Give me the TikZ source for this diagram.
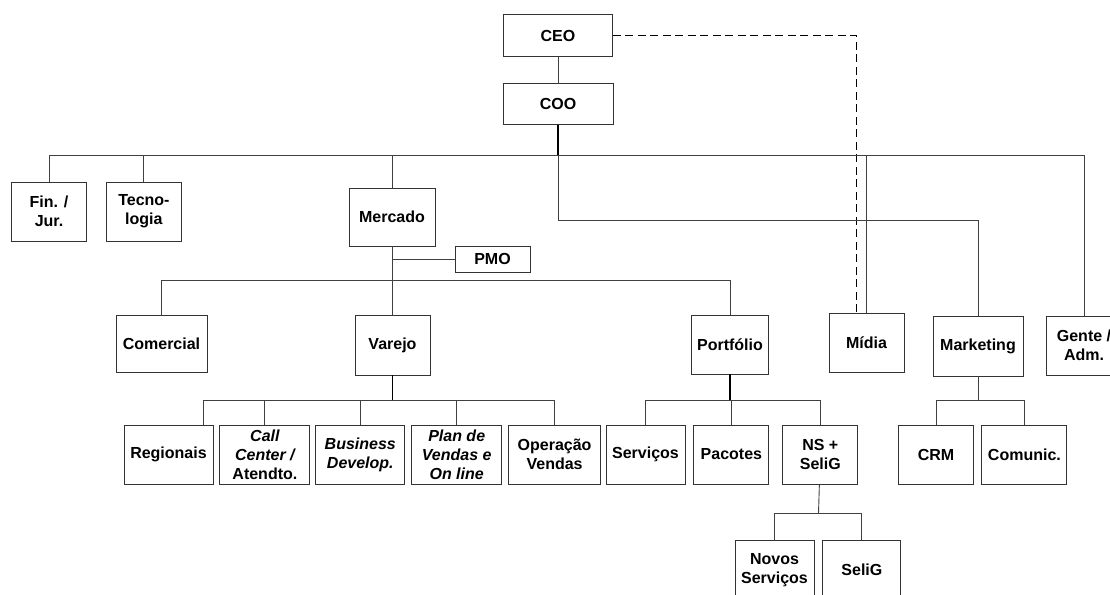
\documentclass[tikz,border=0pt]{standalone}
\usepackage{fontspec}
\setmainfont{Liberation Sans}
\usetikzlibrary{positioning}

\begin{document}
\begin{tikzpicture}[x=1pt, y=-1pt,
    unit/.style={draw=black!80, line width=0.9pt, align=center, inner sep=1pt,
      minimum width=75pt, minimum height=59pt,
      font=\fontsize{16}{19}\selectfont\bfseries},
    link/.style={draw=black!75, line width=0.9pt},
    trunk/.style={draw=black, line width=1.6pt},
    dotted link/.style={draw=black, line width=1.6pt, dash pattern=on 8pt off 4.5pt}]
        \useasboundingbox (0,0) rectangle (1110,594);
        %
        \node [unit, minimum width=109pt, minimum height=42pt] (ceo) at (558,35.5) {CEO};
        \node [unit, minimum width=110pt, minimum height=41pt, below=26pt of ceo] (coo) {COO};
        %
        \node [unit] (fin) at (49,211.5) {Fin. /\\Jur.};
        \node [unit, right=19pt of fin] (tec) {Tecno-\\logia};
        \node [unit, minimum width=86pt, minimum height=58pt] (merc) at (392,217) {Mercado};
        \node [unit, minimum height=26pt] (pmo) at (492.5,259) {PMO};
        %
        \node [unit, minimum width=91pt, minimum height=57pt] (com) at (161.5,343.5) {Comercial};
        \node [unit, minimum height=60pt] (varejo) at (392.5,345) {Varejo};
        \node [unit, minimum width=77pt] (port) at (730,344.5) {Portfólio};
        \node [unit] (midia) at (866.5,342.5) {Mídia};
        \node [unit, minimum width=90pt, minimum height=60pt] (mkt) at (978,346) {Marketing};
        \node [unit, minimum width=76pt] (gente) at (1084,345.5) {Gente /\\Adm.};
        %
        \node [unit, minimum width=89pt] (reg) at (168.5,454.5) {Regionais};
        \node [unit, minimum width=90pt, right=6pt of reg] (call) {{\itshape Call}\\{\itshape Center /}\\Atendto.};
        \node [unit, minimum width=89pt, right=5pt of call] (bdev) {{\itshape Business}\\{\itshape Develop.}};
        \node [unit, minimum width=90pt, right=6pt of bdev] (plan) {{\itshape Plan de}\\{\itshape Vendas e}\\{\itshape On line}};
        \node [unit, minimum width=92pt, right=6pt of plan] (oper) {Operação\\Vendas};
        \node [unit, minimum width=79pt] (serv) at (645.5,454.5) {Serviços};
        \node [unit, right=8pt of serv] (pac) {Pacotes};
        \node [unit, right=13pt of pac] (ns) {NS +\\SeliG};
        \node [unit] (crm) at (936,454.5) {CRM};
        \node [unit, minimum width=85pt, right=7.5pt of crm] (comunic) {Comunic.};
        \node [unit, minimum width=79pt, minimum height=60pt] (novos) at (774.5,570) {Novos\\Serviços};
        \node [unit, minimum width=78pt, minimum height=60pt, right=8pt of novos] (selig) {SeliG};
        %
        \coordinate (bus) at (558,155.5);
        \coordinate (mkbend) at (558,220);
        \coordinate (mbus) at (392,280);
        \coordinate (vbus) at (392.5,400);
        \coordinate (pbus) at (730,400);
        \coordinate (kbus) at (978,400);
        \coordinate (nbus) at (818.5,513);
        %
        \draw [link] (ceo) -- (coo);
        \draw [dotted link] (ceo) -| ([xshift=-10pt]midia.north);
        \draw [trunk] (coo) -- (bus) -- (tec.north |- bus);
        \draw [link] (bus) -| (fin);
        \draw [link] (bus) -| (tec);
        \draw [link] (bus) -| (merc);
        \draw [link] (bus) -| (midia);
        \draw [link] (bus) -| (gente);
        \draw [link] (bus) -- (mkbend) -| (mkt);
        %
        \draw [link] (merc) -- (mbus);
        \draw [link] (merc.south |- pmo.west) -- (pmo);
        \draw [link] (mbus) -| (com);
        \draw [link] (mbus) -| (varejo);
        \draw [link] (mbus) -| (port);
        %
        \draw [trunk] (varejo) -- (vbus);
        \draw [link] (vbus) -| ([xshift=34.5pt]reg.north);
        \draw [link] (vbus) -| (call);
        \draw [link] (vbus) -| (bdev);
        \draw [link] (vbus) -| (plan);
        \draw [link] (vbus) -| (oper);
        %
        \draw [trunk] (port) -- (pbus);
        \draw [link] (pbus) -| (serv);
        \draw [link] (pbus) -| (pac);
        \draw [link] (pbus) -| (ns);
        %
        \draw [link] (mkt) -- (kbus);
        \draw [link] (kbus) -| (crm);
        \draw [link] (kbus) -| (comunic);
        %
        \draw [link] (ns) -- (nbus);
        \draw [link] (nbus) -| (novos);
        \draw [link] (nbus) -| (selig);
\end{tikzpicture}
\end{document}
